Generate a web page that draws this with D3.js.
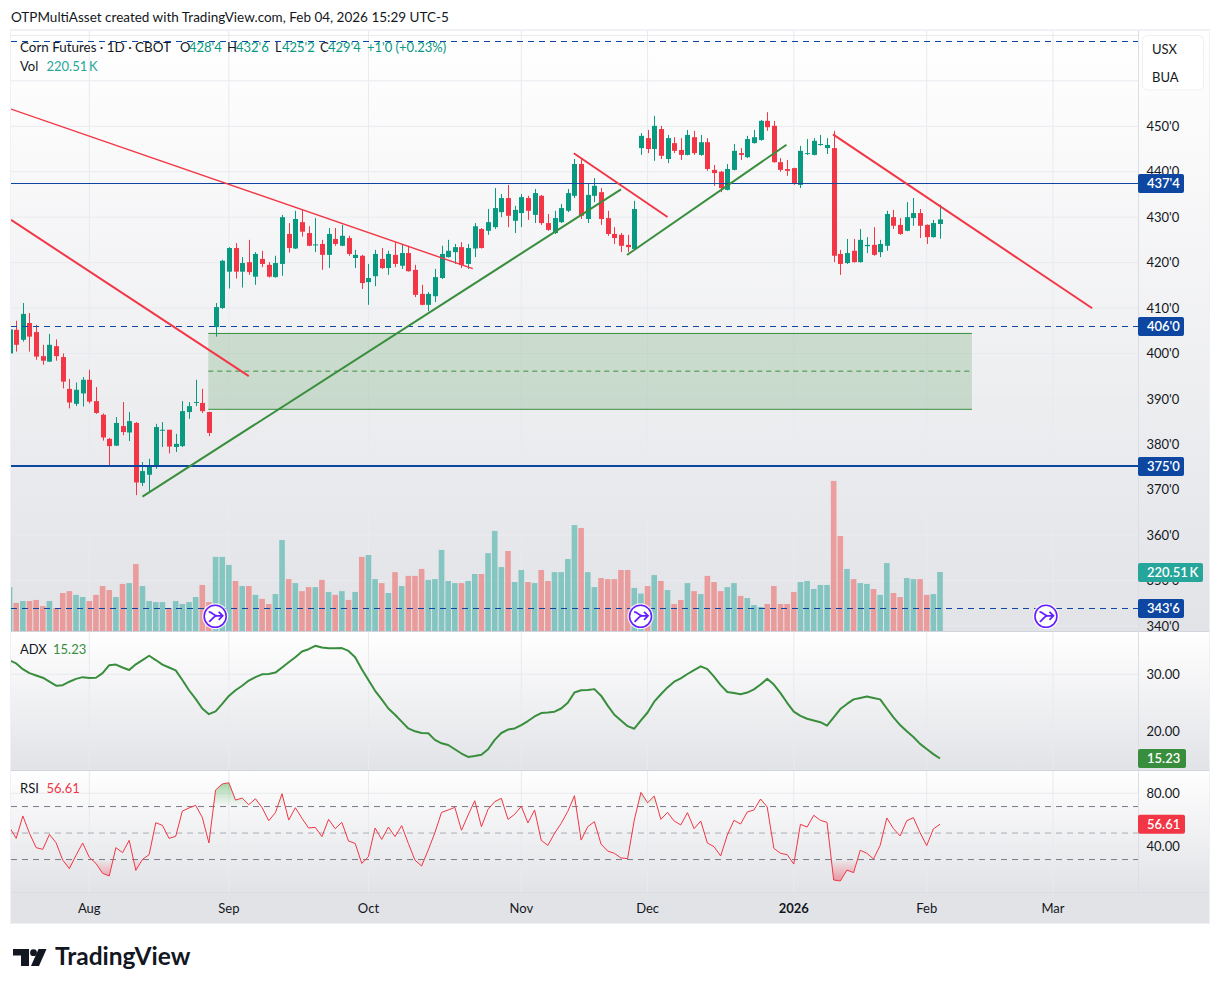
<!DOCTYPE html>
<html>
<head>
<meta charset="utf-8">
<script src="https://cdnjs.cloudflare.com/ajax/libs/d3/7.8.5/d3.min.js"></script>
<style>
  html, body { margin: 0; padding: 0; background: #fff; }
  svg { display: block; }
  text { font-family: Lato, "Open Sans", sans-serif; }
</style>
</head>
<body>
<svg id="chart" width="1220" height="992"></svg>
<script>
// bars run from i = -1 (clipped by the left edge) to i = 139
const opens = [400,
  405.2,403,406.7,404.7,399.4,398.2,401.6,399.2,392.2,388.9,
  391.2,394.2,389.5,386.5,381.2,379.7,384,382.6,384.7,371.5,
  373.3,375.3,383,383.2,379.4,379.6,387.1,389.1,389.1,387.1,
  405.8,410,418,423.2,418,420.1,416.9,420.8,419.5,416.8,
  419.7,426.3,423.1,428.9,426.5,423.9,424.1,421.7,425.2,423.7,
  425.4,421,421.5,415.7,417,420.8,418.8,421.7,419.3,422.1,
  418.4,413.1,410.7,412.6,416.6,421.2,422.3,423.4,419.7,423.1,
  427.4,427,427.8,431.1,434.2,429.2,430.9,434.2,430.5,434.7,
  428.7,426.5,428.9,431.4,434.7,441.7,429.6,434.7,435.5,429.8,
  426.3,426.1,423.9,423,445.2,447.4,445,449.4,442.8,446.3,
  444.8,443.7,447.6,443.7,446.5,440.4,440,436,440.4,444.1,
  443.2,446.3,447,451.2,450.1,442.1,440.6,440.8,437.1,443.9,
  443.7,445.9,445.2,445.2,421.9,419.9,422.6,420.1,423.6,423.9,
  422.3,423.7,430,428.3,427,429.8,430.9,428.3,425.6,428.5];
const highs = [406,
  407.2,411.1,408.9,406.3,401.9,404.3,403.1,400,394.4,393.6,
  394.8,396.4,392.6,386.8,381.4,386,389.3,387.1,384.9,376.1,
  376.8,384.5,384.9,383.2,382.3,389.5,389.3,394.2,392.2,387.2,
  411.1,420.6,423.4,424.3,421.2,425,422.3,422.6,420.1,421.5,
  430.5,428.7,431.4,431.6,428,429.8,425,427.6,427.6,428.3,
  425.9,422.8,421.7,419.7,422.8,423.2,422.6,424.5,423.9,423.7,
  419.5,415.1,413.5,418.6,423.7,425,424.1,424.5,424.1,428.7,
  427.6,431.8,436.4,435.1,437.1,432.5,435.1,434.7,436.2,434.9,
  430.7,431.4,432.9,436.2,442.8,442.8,437.3,438.6,436.4,431.4,
  427.8,426.5,426.1,433.6,448.5,449.2,452.3,450.1,448.1,447.6,
  447.4,449.2,449,448.1,447.4,441.5,440.2,441.7,446.1,445.2,
  447.9,449.2,451.4,453.1,451.2,443,442.6,440.9,445.7,447.2,
  447.4,448.1,447.4,449,422.8,425.2,425.2,427.4,425.6,427.8,
  425,431.4,431.6,429.8,433.3,434.2,431.8,428.4,429.4,432.75];
const lows = [399.5,
  400.4,402.6,400.4,398.6,397.5,398.1,398.4,392.3,387.9,388.4,
  388.3,389,386.7,380.8,375.3,379.6,382,380.7,368.8,370.8,
  369.7,374.6,379.4,378,378.3,379.4,385.6,388.4,386.9,381.8,
  403.7,409.8,414.3,416.5,414.5,417.3,415.1,419,416.7,416.7,
  417.1,422.2,423,425.7,423.6,422.3,418.4,418.8,423.7,423.6,
  421.5,418.8,414.2,410.7,414.8,418.6,417.3,419,418.6,418,
  412.4,410.6,409.3,411.3,416.4,421.1,419.7,418.8,418.6,421.2,
  423.1,426.1,427.4,430,427.8,426.5,427.8,429.4,428.7,428.3,
  427,426.3,428.7,431.1,434.2,429.6,428.7,433.3,428.3,425.9,
  424.1,422.3,422.3,422.9,443.7,444.1,442.4,442.8,441.9,444.1,
  442.6,443.6,443.7,443.5,440.2,436.9,435.5,435.9,440.3,442.6,
  443,446.2,446.8,449,442,440,439.1,437.1,436.4,443.7,
  443.6,445.7,443.9,420.1,417.3,419.7,420,420,422.1,421.5,
  421.2,422.6,427.4,426.1,426.9,428.1,425.4,424.1,425.5,425.25];
const closes = [405.3,
  401.9,408.7,403.7,399.3,398.4,401.9,399.4,393.8,389.2,392,
  394.2,389.4,386.9,381.5,379.6,384.7,382.7,385.1,371.6,374.1,
  375.3,383.8,383.2,379.5,380.1,387.3,388.4,389.3,387.3,382.5,
  410.2,420.4,423.2,418,419.9,417.9,421.9,419.7,416.9,419.9,
  430,423.2,429.6,426.8,423.7,424,421.7,426.3,424.1,425.9,
  421.9,421.7,415.5,416.6,421.9,418.8,421.9,419.7,422.1,418.1,
  412.9,410.7,413.1,416.8,421.9,422.6,423.4,419.5,423.2,428,
  423.2,428.9,432,434.2,430.3,431.6,434.4,431.4,435.3,428.7,
  427.2,429.8,432,435.3,441.7,430.3,434.9,436.9,429.6,426.3,
  425.4,423.7,423.4,431.8,447.9,445,450.1,443.5,447.4,444.6,
  443.7,448.1,444.1,446.5,440.6,439.7,436.4,440.6,444.6,443.7,
  447.2,447.6,451.2,449.8,442.1,440.4,440.2,437.3,444.6,444.1,
  446.8,446.1,445.9,421.5,419.7,422.1,420.1,425,423.9,421.7,
  424.1,430.7,428.1,426.3,430,430.9,428.1,425.6,428.7,429.5];
// volume in thousands
const volumes = [164,
  105,112,112,116,93,112,86,142,149,135,
  127,112,135,168,153,127,176,179,250,168,
  112,108,108,86,112,101,108,127,172,108,
  277,277,247,187,168,168,135,120,101,138,
  340,194,179,149,164,164,191,146,135,149,
  116,146,277,284,194,179,142,220,168,206,
  206,232,191,194,303,187,179,179,187,213,
  213,291,374,239,299,183,228,183,179,228,
  187,220,220,269,396,385,220,164,198,194,
  194,228,228,161,140,168,209,187,153,101,
  116,179,149,138,206,183,149,164,179,131,
  123,97,90,101,168,101,101,146,183,187,
  157,172,172,561,355,232,194,179,176,157,
  135,254,142,127,198,194,194,135,138,220.51];
const adxValues = [32.45,
  31.9,30.9,30.2,29.8,29.4,28.7,28,28.1,28.7,29.2,
  29.5,29.35,29.4,30.2,31.6,31.7,31.2,30.75,31.75,32.5,
  33.25,32.5,31.7,31.2,30.7,29,27.2,25.7,24,23,
  23.5,24.8,26.2,27.2,28,28.9,29.5,30,30.05,30.3,
  31.2,32.1,33,34,34.4,35,34.7,34.55,34.55,34.6,
  34.1,33,30.9,29,27.1,25.6,24,22.9,21.7,20.5,
  20,19.7,19.65,18.5,17.9,17.6,16.85,16.1,15.5,15.65,
  15.9,16.85,18.5,19.7,20.3,20.5,21.1,21.8,22.6,23.2,
  23.3,23.45,24,25,26.8,27.2,27.25,27.4,26.25,24.5,
  22.9,21.9,20.9,20.45,21.9,23.3,25.2,26.5,27.7,28.7,
  29.3,30.05,30.75,31.4,30.9,29.6,28.1,26.9,26.7,26.5,
  26.8,27.35,28.2,29.2,28.2,26.7,25,23.45,22.7,22.2,
  21.9,21.6,21,22.45,23.9,24.8,25.6,25.85,26.1,25.85,
  25.6,24,22.45,21.1,20,19,17.8,16.9,16,15.23];
const rsiValues = [54.3,
  46,62.9,49.8,39,37.7,49,42.7,29.6,23.1,33.2,
  42.5,31.7,27.1,19.6,17.6,39,35.2,44.5,21.8,30.1,
  33.7,57.8,55.8,46,47.5,66.6,68.9,70.9,61.8,42.5,
  82.5,87,88,74.9,76.4,71.4,75.9,69.15,59.3,65.4,
  79.7,59.8,69.15,61.1,53.8,54.3,47.3,60.3,53.3,58.1,
  44,42.2,27.1,32.2,53.8,45.2,54.5,47.3,55.6,42.2,
  29.6,25.1,37.2,50.3,65.6,67.4,69.4,52.1,63.6,74.4,
  54.8,67.9,73.7,76.2,60.3,64.1,70.2,57.6,67.4,44.5,
  40.7,49.8,57.3,66.4,78.2,44.7,54.8,58.6,41.7,36.4,
  34.7,31.2,30.7,59.8,80.7,72.9,77.9,60.3,65.6,59.1,
  56.1,65.4,53.3,59.1,42.5,39.7,32.7,48.5,59.6,56.8,
  65.9,67.4,75.7,69.7,38.5,34.7,33.7,26.6,56.6,54.5,
  63.4,59.6,58.1,14.6,13.8,22.1,20.1,37,34.7,30.4,
  40.7,61.4,53.3,47.8,59.3,61.6,50.3,40.5,53.1,56.61];

const timeTicks = [11, 32, 53, 76, 95, 117, 137, 156];
const timeLabels = ["Aug", "Sep", "Oct", "Nov", "Dec", "2026", "Feb", "Mar"];
const priceGrid = [470, 460, 450, 440, 430, 420, 410, 400, 390, 380, 370, 360, 350, 340];
const priceLabels = [450, 440, 430, 420, 410, 400, 390, 380, 370, 360, 350, 340];
const adxTicks = [30, 20];
const rsiTicks = [80, 40];
const rsiBands = [70, 50, 30];
const eventBars = [30, 94, 155];

// drawn lines: [bar, price, bar, price, width]
const redLines = [
  [-0.78, 453.8, 68.7, 418.66, 1.4],
  [-0.78, 429.4, 35, 395, 2],
  [83.9, 444.06, 98, 430.04, 2],
  [122.9, 448.24, 161.9, 409.94, 2],
];
const greenLines = [
  [19, 368.47, 91, 436.1, 2],
  [91.9, 421.67, 115.9, 445.95, 2],
];
const zoneBox = { left: 28.9, right: 143.8, top: 404.4, mid: 396.1, bottom: 387.7 };

const upColor = "#089981";
const downColor = "#f23645";
const volUp = "#26a69a";
const volDown = "#ef5350";
const blue = "#0d47a1";
const green = "#388e3c";
const textColor = "#131722";
const gridColor = "#e9eaef";

const left = 11, axisX = 1138, right = 1209;
const paneTop = 31, mainBottom = 631, adxBottom = 770, rsiBottom = 892, frameBottom = 923;

const svg = d3.select("#chart");
const defs = svg.append("defs");

const barIndex = closes.map((_, i) => i - 1);
const x = d3.scaleLinear().domain([0, 139]).range([16.2, 940]);
const y = d3.scaleLinear().domain([450, 340]).range([126.3, 626]);
const yVol = d3.scaleLinear().domain([0, 220.51]).range([631, 572]);
const yAdx = d3.scaleLinear().domain([30, 20]).range([674.3, 731.3]);
const yRsi = d3.scaleLinear().domain([80, 40]).range([793.3, 846.3]);

// Pane backgrounds
const paneGrad = defs.append("linearGradient").attr("id", "paneBg").attr("x2", 0).attr("y2", 1);
paneGrad.append("stop").attr("offset", 0).attr("stop-color", "#ffffff");
paneGrad.append("stop").attr("offset", 1).attr("stop-color", "#e2e3e7");

svg.append("rect").attr("x", left - 1).attr("y", paneTop - 2)
  .attr("width", right - left + 2).attr("height", frameBottom - paneTop + 3).attr("fill", "#f0f1f5");

[[paneTop, mainBottom], [mainBottom, adxBottom], [adxBottom, rsiBottom]].forEach(([a, b]) => {
  svg.append("rect").attr("x", left).attr("y", a).attr("width", right - left).attr("height", b - a)
    .attr("fill", "url(#paneBg)");
});
svg.append("rect").attr("x", left).attr("y", rsiBottom).attr("width", right - left)
  .attr("height", frameBottom - rsiBottom).attr("fill", "#e2e3e7");

defs.append("clipPath").attr("id", "plotClip").append("rect")
  .attr("x", left).attr("y", paneTop).attr("width", axisX - left).attr("height", mainBottom - paneTop);
defs.append("clipPath").attr("id", "lowerClip").append("rect")
  .attr("x", left).attr("y", mainBottom).attr("width", axisX - left).attr("height", rsiBottom - mainBottom);

// Grid lines
const grid = svg.append("g");
grid.selectAll(".vgrid").data(timeTicks).join("line")
  .attr("x1", (d) => x(d)).attr("x2", (d) => x(d))
  .attr("y1", paneTop).attr("y2", rsiBottom).attr("stroke", gridColor);
grid.selectAll(".pgrid").data(priceGrid).join("line")
  .attr("x1", left).attr("x2", axisX).attr("y1", (d) => y(d)).attr("y2", (d) => y(d)).attr("stroke", gridColor);
grid.selectAll(".agrid").data(adxTicks).join("line")
  .attr("x1", left).attr("x2", axisX).attr("y1", (d) => yAdx(d)).attr("y2", (d) => yAdx(d)).attr("stroke", gridColor);
grid.selectAll(".rgrid").data(rsiTicks).join("line")
  .attr("x1", left).attr("x2", axisX).attr("y1", (d) => yRsi(d)).attr("y2", (d) => yRsi(d)).attr("stroke", gridColor);

const plot = svg.append("g").attr("clip-path", "url(#plotClip)");

// Volume
plot.append("g").selectAll("rect").data(barIndex).join("rect")
  .attr("x", (i) => x(i) - 2.8).attr("width", 5.6)
  .attr("y", (i) => yVol(volumes[i + 1]))
  .attr("height", (i) => yVol(0) - yVol(volumes[i + 1]))
  .attr("fill", (i) => closes[i + 1] >= opens[i + 1] ? volUp : volDown)
  .attr("fill-opacity", 0.5);

// Zone box
plot.append("rect")
  .attr("x", x(zoneBox.left)).attr("width", x(zoneBox.right) - x(zoneBox.left))
  .attr("y", y(zoneBox.top)).attr("height", y(zoneBox.bottom) - y(zoneBox.top))
  .attr("fill", green).attr("fill-opacity", 0.2);
[zoneBox.top, zoneBox.mid, zoneBox.bottom].forEach((p, k) => {
  plot.append("line").attr("x1", x(zoneBox.left)).attr("x2", x(zoneBox.right))
    .attr("y1", y(p)).attr("y2", y(p)).attr("stroke", green)
    .attr("stroke-width", 1).attr("stroke-dasharray", k === 1 ? "5 4" : null);
});

// Candles
const candles = plot.append("g").selectAll("g").data(barIndex).join("g")
  .attr("fill", (i) => closes[i + 1] >= opens[i + 1] ? upColor : downColor)
  .attr("stroke", (i) => closes[i + 1] >= opens[i + 1] ? upColor : downColor);
candles.append("line")
  .attr("x1", (i) => Math.round(x(i)) + 0.5).attr("x2", (i) => Math.round(x(i)) + 0.5)
  .attr("y1", (i) => y(highs[i + 1])).attr("y2", (i) => y(lows[i + 1]))
  .attr("stroke-width", 1);
candles.append("rect")
  .attr("x", (i) => Math.round(x(i)) + 0.5 - 2.5).attr("width", 5)
  .attr("y", (i) => y(Math.max(opens[i + 1], closes[i + 1])))
  .attr("height", (i) => Math.max(1, Math.abs(y(opens[i + 1]) - y(closes[i + 1]))))
  .attr("stroke", "none");

// Horizontal levels, snapped to whole pixels
const levelY = (d) => d.width === 2 ? Math.round(y(d.price)) - 1 : Math.floor(y(d.price)) + 0.5;
const levels = [
  { price: 468.75, width: 1, dash: "6 5" },
  { price: 437.5, width: 1, dash: null },
  { price: 406, width: 1, dash: "6 5" },
  { price: 375, width: 2, dash: null },
  { price: 343.75, width: 1, dash: "6 5" },
];
plot.append("g").selectAll("line").data(levels).join("line")
  .attr("x1", left).attr("x2", axisX)
  .attr("y1", levelY).attr("y2", levelY)
  .attr("stroke", blue).attr("stroke-width", (d) => d.width)
  .attr("stroke-dasharray", (d) => d.dash);

// Trend lines
const drawLines = (rows, color) => {
  plot.append("g").selectAll("line").data(rows).join("line")
    .attr("x1", (d) => x(d[0])).attr("y1", (d) => y(d[1]))
    .attr("x2", (d) => x(d[2])).attr("y2", (d) => y(d[3]))
    .attr("stroke", color).attr("stroke-width", (d) => d[4]);
};
drawLines(greenLines, green);
drawLines(redLines, downColor);

// Event markers
const markers = plot.append("g").selectAll("g").data(eventBars).join("g")
  .attr("transform", (d) => `translate(${x(d) - 0.4},616.3)`);
markers.append("circle").attr("r", 13).attr("fill", "#fff").attr("fill-opacity", 0.85);
markers.append("circle").attr("r", 11).attr("fill", "#fff").attr("stroke", "#651fff").attr("stroke-width", 1.6);
markers.append("path")
  .attr("d", "M-6.5,-4.5C-2.5,-4.5,-2,-0.5,2,-0.5M-6,5.5L-1.5,1C-0.5,0,1,-0.5,2,-0.5H7M3.5,-4.5L7.5,-0.5L3.5,3.5")
  .attr("fill", "none").attr("stroke", "#651fff").attr("stroke-width", 1.8);

// ADX pane
const lower = svg.append("g").attr("clip-path", "url(#lowerClip)");
lower.append("path").datum(adxValues)
  .attr("fill", "none").attr("stroke", green).attr("stroke-width", 2).attr("stroke-linejoin", "round")
  .attr("d", d3.line().x((_, j) => x(j - 1)).y((d) => yAdx(d)));

// RSI pane
const greenFade = defs.append("linearGradient").attr("id", "rsiOver").attr("gradientUnits", "userSpaceOnUse")
  .attr("x1", 0).attr("x2", 0).attr("y1", yRsi(90)).attr("y2", yRsi(70));
greenFade.append("stop").attr("offset", 0).attr("stop-color", "#4caf50").attr("stop-opacity", 0.55);
greenFade.append("stop").attr("offset", 1).attr("stop-color", "#4caf50").attr("stop-opacity", 0);
const redFade = defs.append("linearGradient").attr("id", "rsiUnder").attr("gradientUnits", "userSpaceOnUse")
  .attr("x1", 0).attr("x2", 0).attr("y1", yRsi(30)).attr("y2", yRsi(12));
redFade.append("stop").attr("offset", 0).attr("stop-color", downColor).attr("stop-opacity", 0);
redFade.append("stop").attr("offset", 1).attr("stop-color", downColor).attr("stop-opacity", 0.5);

defs.append("clipPath").attr("id", "overClip").append("rect")
  .attr("x", left).attr("y", adxBottom).attr("width", axisX - left).attr("height", yRsi(70) - adxBottom);
defs.append("clipPath").attr("id", "underClip").append("rect")
  .attr("x", left).attr("y", yRsi(30)).attr("width", axisX - left).attr("height", rsiBottom - yRsi(30));

const rsiX = (_, j) => x(j - 1);
lower.append("g").attr("clip-path", "url(#overClip)").append("path").datum(rsiValues)
  .attr("fill", "url(#rsiOver)")
  .attr("d", d3.area().x(rsiX).y0(yRsi(70)).y1((d) => yRsi(d)));
lower.append("g").attr("clip-path", "url(#underClip)").append("path").datum(rsiValues)
  .attr("fill", "url(#rsiUnder)")
  .attr("d", d3.area().x(rsiX).y0(yRsi(30)).y1((d) => yRsi(d)));

lower.append("g").selectAll("line").data(rsiBands).join("line")
  .attr("x1", left).attr("x2", axisX)
  .attr("y1", (d) => yRsi(d)).attr("y2", (d) => yRsi(d))
  .attr("stroke", (d) => d === 50 ? "#a8abb3" : "#787b86")
  .attr("stroke-dasharray", "6 5");

lower.append("path").datum(rsiValues)
  .attr("fill", "none").attr("stroke", downColor).attr("stroke-width", 1).attr("stroke-linejoin", "round")
  .attr("d", d3.line().x(rsiX).y((d) => yRsi(d)));

// Pane borders
[[mainBottom + 0.5, "#d1d4dc"], [adxBottom + 0.5, "#d1d4dc"], [rsiBottom + 0.5, "#dcdde2"]].forEach(([yy, c]) => {
  svg.append("line").attr("x1", left).attr("x2", right).attr("y1", yy).attr("y2", yy).attr("stroke", c);
});
svg.append("line").attr("x1", axisX + 0.5).attr("x2", axisX + 0.5)
  .attr("y1", paneTop).attr("y2", rsiBottom).attr("stroke", "#dcdee5");

// Axes
const styleAxis = (g) => {
  g.select(".domain").remove();
  g.selectAll(".tick line").remove();
  g.selectAll("text").attr("fill", textColor).attr("font-size", 13).attr("font-family", "Lato, sans-serif");
};
svg.append("g").attr("transform", `translate(${axisX - 0.5},0)`)
  .call(d3.axisRight(y).offset(0.5).tickValues(priceLabels).tickSize(0).tickPadding(9).tickFormat((d) => `${d}'0`))
  .call(styleAxis);
svg.append("g").attr("transform", `translate(${axisX - 0.5},0)`)
  .call(d3.axisRight(yAdx).offset(0.5).tickValues(adxTicks).tickSize(0).tickPadding(9).tickFormat(d3.format(".2f")))
  .call(styleAxis);
svg.append("g").attr("transform", `translate(${axisX - 0.5},0)`)
  .call(d3.axisRight(yRsi).offset(0.5).tickValues(rsiTicks).tickSize(0).tickPadding(9).tickFormat(d3.format(".2f")))
  .call(styleAxis);
svg.append("g").attr("transform", `translate(0,${rsiBottom})`)
  .call(d3.axisBottom(x).offset(0).tickValues(timeTicks).tickSize(0).tickPadding(12)
    .tickFormat((d) => timeLabels[timeTicks.indexOf(d)]))
  .call(styleAxis)
  .call((g) => g.selectAll("text").filter((d) => d === 117).attr("font-weight", 700));

// Price badges
const badges = [
  { y: Math.floor(y(437.5)) + 0.5, w: 46, fill: blue, label: "437'4" },
  { y: Math.floor(y(406)) + 0.5, w: 46, fill: blue, label: "406'0" },
  { y: Math.floor(y(375)) - 0.5, w: 46, fill: blue, label: "375'0" },
  { y: yVol(220.51) + 0.5, w: 65, fill: "#26a69a", label: "220.51\u2009K" },
  { y: Math.floor(y(343.75)) + 0.5, w: 46, fill: blue, label: "343'6" },
  { y: yAdx(15.23), w: 48, fill: green, label: "15.23" },
  { y: yRsi(56.61), w: 47, fill: downColor, label: "56.61" },
];
const badge = svg.append("g").selectAll("g").data(badges).join("g")
  .attr("transform", (d) => `translate(${axisX},${d.y})`);
badge.append("rect").attr("y", -9.5).attr("width", (d) => d.w).attr("height", 19).attr("rx", 2).attr("fill", (d) => d.fill);
badge.append("text").attr("x", 9).attr("dy", "0.35em").attr("fill", "#fff").attr("font-size", 13).attr("font-weight", 600).text((d) => d.label);

// Unit box
svg.append("rect").attr("x", 1142.5).attr("y", 35.5).attr("width", 61).attr("height", 54.5).attr("rx", 5)
  .attr("fill", "#fff").attr("stroke", "#eff0f3");
svg.append("text").attr("x", 1152).attr("y", 54).attr("font-size", 13).attr("fill", textColor).text("USX");
svg.append("text").attr("x", 1152).attr("y", 82).attr("font-size", 13).attr("fill", textColor).text("BUA");

// Legends
const addText = (tx, ty, str, color, opts = {}) => svg.append("text").attr("x", tx).attr("y", ty)
  .attr("font-size", opts.size || 13).attr("fill", color || textColor).attr("font-weight", opts.weight || 400).text(str);

addText(11, 22, "OTPMultiAsset created with TradingView.com, Feb 04, 2026 15:29 UTC-5", textColor, { size: 13.5 });
addText(20, 52, "Corn Futures · 1D · CBOT", textColor, { size: 13.4 });
addText(180, 52, "O"); addText(189, 52, "428'4", upColor);
addText(227, 52, "H"); addText(236, 52, "432'6", upColor);
addText(275, 52, "L"); addText(282, 52, "425'2", upColor);
addText(320, 52, "C"); addText(328, 52, "429'4", upColor);
addText(367, 52, "+1'0 (+0.23%)", upColor);
addText(20, 71, "Vol"); addText(46.5, 71, "220.51\u2009K", "#26a69a");
addText(20, 654, "ADX"); addText(53, 654, "15.23", green);
addText(20, 793, "RSI"); addText(46.5, 793, "56.61", downColor);

// Logo
const logo = svg.append("g").attr("fill", textColor);
logo.append("path").attr("d", "M13,949H29V966H21V955.5H13Z");
logo.append("circle").attr("cx", 33.5).attr("cy", 952.7).attr("r", 3.4);
logo.append("path").attr("d", "M38.5,949H46.5L39,966H31Z");
svg.append("text").attr("x", 55).attr("y", 965).attr("font-family", "Inter, sans-serif")
  .attr("font-size", 24.5).attr("font-weight", 700).attr("fill", textColor).text("TradingView");
</script>
</body>
</html>
